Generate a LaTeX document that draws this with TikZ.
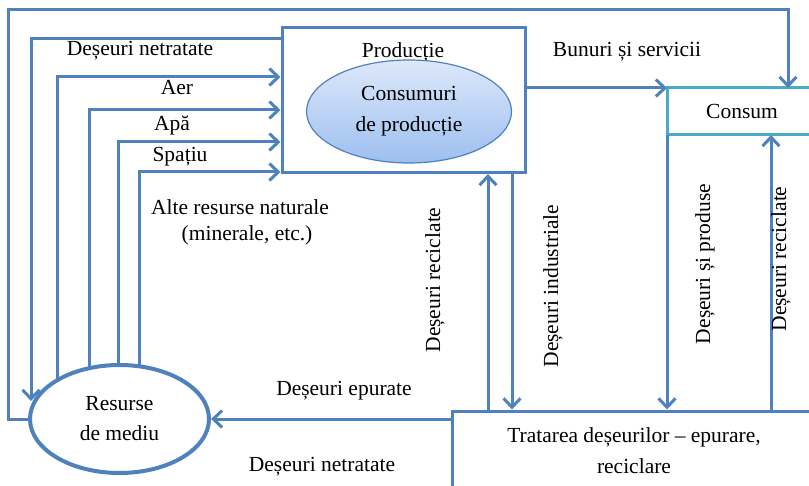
\documentclass[tikz,border=0pt]{standalone}
\usepackage{fontspec}
\setmainfont{Liberation Serif}
\usetikzlibrary{positioning}
\usetikzlibrary{arrows.meta}
\usetikzlibrary{shapes}
\usetikzlibrary{backgrounds}
\definecolor{flowblue}{HTML}{4F81BD}
\definecolor{consteal}{HTML}{4BACC6}
\definecolor{elltop}{HTML}{DDE8FA}
\definecolor{ellbot}{HTML}{9DBFF0}
\begin{document}
\begin{tikzpicture}
[   x=1pt, y=-1pt,
    font=\fontsize{21.5}{31}\selectfont,
    flow/.style={draw=flowblue, line width=3pt},
    arr/.style={flow, -{Straight Barb[length=9pt,width=17pt]}},
    box/.style={draw=flowblue, line width=3pt, fill=white, inner sep=0pt},
    lbl/.style={inner sep=0pt, align=center}
]

\useasboundingbox (0,0) rectangle (809,486);

\node (prod) [box, minimum width=243pt, minimum height=145pt] at (403.5,100) {};
\node (prodtitle) [lbl] at (403,52) {Producție};
\node (cpr) [ellipse, draw=flowblue, line width=1.2pt, top color=elltop, bottom color=ellbot,
    minimum width=205pt, minimum height=103pt, inner sep=0pt, align=center] at (409,111.5)
    {Consumuri\\de producție};
\node (cons) [box, draw=consteal, outer sep=0pt, minimum width=150pt, minimum height=47pt] at (742,111.5) {Consum};
\node (res) [ellipse, draw=flowblue, line width=4pt, fill=white, minimum width=179pt,
    minimum height=108pt, inner sep=0pt, align=center] at (119.5,419) {Resurse\\[-1pt]de mediu};
\node (trat) [box, minimum width=364pt, minimum height=80pt, align=center] at (634,451)
    {Tratarea deșeurilor – epurare,\\reciclare};

\coordinate (tl) at (8,10);
\coordinate (tr) at (788,10);
\coordinate (cdn) at (31,39);
\coordinate (dntip) at (31,401);
\coordinate (caer) at (57,77);
\coordinate (capa) at (89,110);
\coordinate (cspa) at (118,142);
\coordinate (calt) at (139,172);
\coordinate (xrc) at (488,0);
\coordinate (xind) at (512,0);
\coordinate (xrc2) at (771,0);

\begin{scope}[on background layer]
\draw[arr] (res.center -| caer) |- (prod.west |- caer);
\draw[arr] (res.center -| capa) |- (prod.west |- capa);
\draw[arr] (res.center -| cspa) |- (prod.west |- cspa);
\draw[arr] (res.center -| calt) |- (prod.west |- calt);
\end{scope}

\draw[arr] (res.west) -| (tl) -| (cons.north -| tr);
\draw[arr] (prod.west |- cdn) -- (cdn) -- (dntip);
\draw[arr] (prod.east |- cons.north west) -- (cons.north west);
\draw[arr] (trat.west |- res.east) -- (res.east);
\draw[arr] (trat.north -| xrc) -- (prod.south -| xrc);
\draw[arr] (prod.south -| xind) -- (trat.north -| xind);
\draw[arr] (cons.south west) -- (trat.north -| cons.south west);
\draw[arr] (trat.north -| xrc2) -- (cons.south -| xrc2);

\node (lbdn) [lbl] at (140,51) {Deșeuri netratate};
\node (lbaer) [lbl] at (177,88) {Aer};
\node (lbapa) [lbl] at (172,125) {Apă};
\node (lbspa) [lbl] at (180,157) {Spațiu};
\node (lbalt) [lbl] at (240,207) {Alte resurse naturale};
\node (lbmin) [lbl] at (247,235) {(minerale, etc.)};
\node (lbbun) [lbl] at (627,52) {Bunuri și servicii};
\node (lbepu) [lbl] at (344,391) {Deșeuri epurate};
\node (lbnet) [lbl] at (322,467) {Deșeuri netratate};
\node (lbrc) [lbl, rotate=90] at (435,280) {Deșeuri reciclate};
\node (lbind) [lbl, rotate=90] at (553,286) {Deșeuri industriale};
\node (lbsp) [lbl, rotate=90] at (705,264) {Deșeuri și produse};
\node (lbrc2) [lbl, rotate=90] at (781,259) {Deșeuri reciclate};
\end{tikzpicture}
\end{document}
